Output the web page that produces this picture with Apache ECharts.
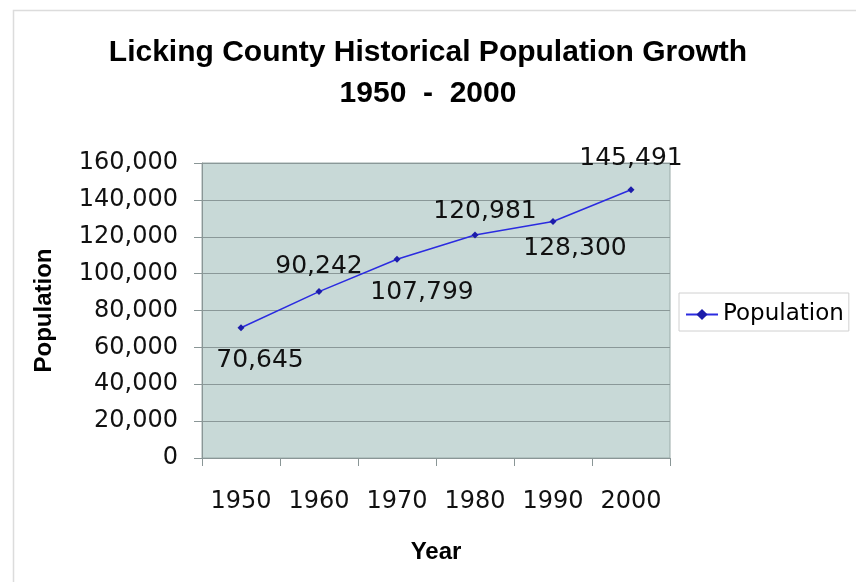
<!DOCTYPE html>
<html>
<head>
<meta charset="utf-8">
<script src="https://cdn.jsdelivr.net/npm/echarts@6/dist/echarts.min.js"></script>
<style>
html,body{margin:0;padding:0;background:#fff;}
#chart{width:856px;height:582px;}
</style>
</head>
<body>
<div id="chart"></div>
<script>
// ---- data ----
const years = ['1950', '1960', '1970', '1980', '1990', '2000'];
const population = [70645, 90242, 107799, 120981, 128300, 145491];
const yTicks = { min: 0, max: 160000, interval: 20000 };
const seriesName = 'Population';
const titleText = 'Licking County Historical Population Growth\n1950  -  2000';

// label placement (style only)
const labelShift = [[19, 33], [0, -25], [25, 33], [10, -23], [22, 27], [0, -31]];

const fmt = v => Number(v).toLocaleString('en-US');
const numFont = 'DejaVu Sans';
const boldFont = 'Liberation Sans';

const chart = echarts.init(document.getElementById('chart'), null, { renderer: 'canvas' });
chart.setOption({
  backgroundColor: '#ffffff',
  animation: false,
  graphic: [{
    type: 'rect', left: 11, top: 8, silent: true, z: -10,
    shape: { width: 900, height: 700 },
    style: { fill: 'none', stroke: '#dcdcdc', lineWidth: 1.5 }
  }],
  title: {
    text: titleText,
    left: 'center',
    top: 27,
    textStyle: { fontFamily: boldFont, fontWeight: 'bold', fontSize: 30, lineHeight: 41, color: '#000' }
  },
  legend: {
    data: [seriesName],
    left: 679, top: 293,
    orient: 'vertical',
    padding: [10, 5, 5, 6],
    itemWidth: 32, itemHeight: 14, itemGap: 8,
    borderColor: '#d0d0d0', borderWidth: 1,
    backgroundColor: '#fff',
    textStyle: { fontFamily: numFont, fontSize: 23, color: '#000' }
  },
  grid: { left: 202, right: 186, top: 163, bottom: 124, containLabel: false,
          show: true, backgroundColor: '#c8d9d7', borderColor: '#9aaaa8', borderWidth: 1 },
  xAxis: {
    type: 'category',
    data: years,
    boundaryGap: true,
    name: 'Year',
    nameLocation: 'middle',
    nameGap: 82,
    nameTextStyle: { fontFamily: boldFont, fontWeight: 'bold', fontSize: 24, color: '#000' },
    axisLine: { lineStyle: { color: '#8a9696', width: 1 } },
    axisTick: { show: true, length: 8, alignWithLabel: false, interval: 0, lineStyle: { color: '#8a9696' } },
    axisLabel: { interval: 0, hideOverlap: false, margin: 32, fontFamily: numFont, fontSize: 24, color: '#111' },
    splitLine: { show: false }
  },
  yAxis: {
    type: 'value',
    min: yTicks.min, max: yTicks.max, interval: yTicks.interval,
    name: 'Population',
    nameLocation: 'middle',
    nameGap: 146,
    nameRotate: 90,
    nameTextStyle: { fontFamily: boldFont, fontWeight: 'bold', fontSize: 24, color: '#000' },
    axisLine: { show: true, lineStyle: { color: '#8a9696', width: 1 } },
    axisTick: { show: true, length: 8, lineStyle: { color: '#8a9696' } },
    axisLabel: { margin: 24, fontFamily: numFont, fontSize: 24, color: '#111', formatter: fmt },
    splitLine: { show: true, lineStyle: { color: '#8a9898', width: 1 } }
  },
  series: [{
    name: seriesName,
    type: 'line',
    data: population.map((v, i) => ({
      value: v,
      label: { offset: labelShift[i] }
    })),
    symbol: 'diamond',
    symbolSize: 7,
    lineStyle: { color: '#2b2be0', width: 1.5 },
    itemStyle: { color: '#1c1caa' },
    label: {
      show: true,
      position: 'inside',
      align: 'center',
      verticalAlign: 'middle',
      fontFamily: numFont,
      fontSize: 25,
      color: '#111',
      formatter: p => fmt(p.value)
    }
  }]
});
</script>
</body>
</html>
